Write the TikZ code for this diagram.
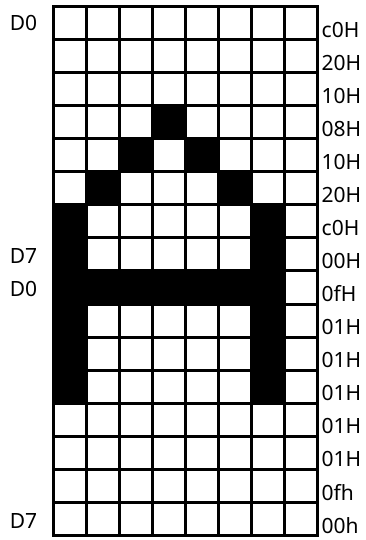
\documentclass[tikz,border=0pt]{standalone}
\usepackage{fontspec}
\setmainfont{Noto Sans}
\begin{document}
\begin{tikzpicture}[x=1pt,y=-1pt,
  lab/.style={font=\fontsize{21}{23}\selectfont, inner sep=0pt},
  gridline/.style={line width=3pt, line cap=rect}]
\useasboundingbox (0,0) rectangle (366,540);
\def\cw{33}
\def\ch{33.06}
% black cells col/row
\foreach \c/\r in {3/3,2/4,4/4,1/5,5/5,0/6,6/6,0/7,6/7,0/8,1/8,2/8,3/8,4/8,5/8,6/8,0/9,6/9,0/10,6/10,0/11,6/11}
  \fill[black] (53+\c*\cw, 6.5+\r*\ch) rectangle ++(\cw,\ch);
% grid lines
\foreach \i in {0,...,8}
  \draw[gridline] (53+\i*\cw, 6.5) -- (53+\i*\cw, 6.5+16*\ch);
\foreach \j in {0,...,16}
  \draw[gridline] (53, 6.5+\j*\ch) -- (53+8*\cw, 6.5+\j*\ch);
% right labels
\foreach \t [count=\i from 0] in {c0H,20H,10H,08H,10H,20H,c0H,00H,0fH,01H,01H,01H,01H,01H,0fh,00h}
  \node[lab, anchor=west] (r\i) at (321.5, 6.5+\i*\ch+0.5*\ch+6.5) {\t};
% left labels
\node[lab] (l0) at (23.5, 6.5+0.5*\ch) {D0};
\node[lab] (l7) at (23.5, 6.5+7.5*\ch+2) {D7};
\node[lab] (l8) at (23.5, 6.5+8.5*\ch+1) {D0};
\node[lab] (l15) at (23.5, 6.5+15.5*\ch+2) {D7};
\end{tikzpicture}
\end{document}
